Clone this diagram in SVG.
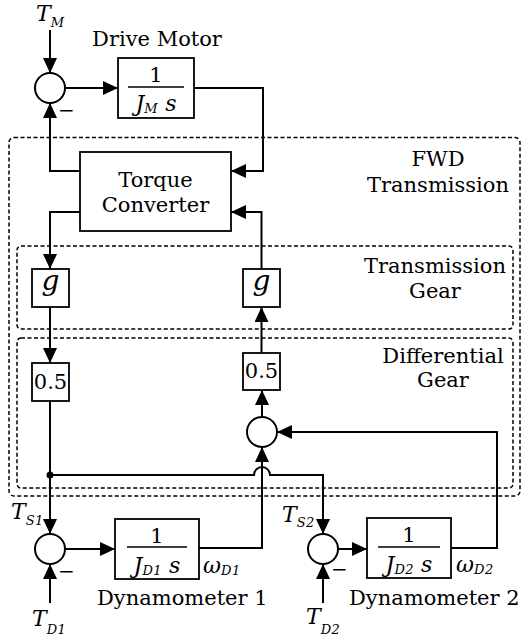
<svg xmlns="http://www.w3.org/2000/svg" width="525" height="643" viewBox="0 0 525 643">
<defs>
<marker id="ah" markerUnits="userSpaceOnUse" markerWidth="15" markerHeight="14" refX="15" refY="7" orient="auto">
<path d="M0,0 L15,7 L0,14 z" fill="#000"/>
</marker>
<style>
text{font-family:"DejaVu Serif","Liberation Serif",serif;fill:#000}
.lbl{font-size:21px}
.m{font-style:italic;font-size:22px}
.sub{font-size:13px;letter-spacing:0.5px}
.num{font-size:21px}
.mn{font-size:20px}
.blk{fill:#fff;stroke:#000;stroke-width:1.8}
.sum{fill:#fff;stroke:#000;stroke-width:2}
.dash{fill:none;stroke:#000;stroke-width:1.5;stroke-dasharray:4,2.5}
.w{fill:none;stroke:#000;stroke-width:2}
.a{marker-end:url(#ah)}
.fr{stroke:#000;stroke-width:1.5}
</style>
</defs>
<g id="groups">
<rect id="fwd" class="dash" x="9" y="137.5" width="511" height="358.5" rx="5"/>
<rect id="tgear" class="dash" x="17" y="246" width="496" height="83" rx="4"/>
<rect id="dgear" class="dash" x="17" y="338" width="496" height="150" rx="4"/>
<text class="lbl" x="438" y="166" text-anchor="middle">FWD</text>
<text class="lbl" x="438" y="192" text-anchor="middle">Transmission</text>
<text class="lbl" x="435" y="273" text-anchor="middle">Transmission</text>
<text class="lbl" x="435" y="298" text-anchor="middle">Gear</text>
<text class="lbl" x="443" y="363" text-anchor="middle">Differential</text>
<text class="lbl" x="443" y="387" text-anchor="middle">Gear</text>
</g>
<g id="connectors">
<path class="w a" d="M50,30 L50,73"/>
<path class="w a" d="M65,88 L118,88"/>
<path class="w a" d="M194,88 L263,88 L263,171 L231,171"/>
<path class="w a" d="M80,171 L50,171 L50,103"/>
<path class="w a" d="M80,212 L50,212 L50,269"/>
<path class="w a" d="M261.5,269 L261.5,212 L231,212"/>
<path class="w a" d="M50,307 L50,363"/>
<path class="w a" d="M261.5,353 L261.5,307"/>
<path class="w a" d="M262,417 L262,390"/>
<path class="w a" d="M451,548 L497,548 L497,432 L277,432"/>
<path class="w a" d="M199,548 L262,548 L262,447"/>
<path class="w a" d="M50,401 L50,534"/>
<path class="w a" d="M50,475 L254,475 A8,8 0 0 1 270,475 L323,475 L323,534"/>
<circle cx="50" cy="475" r="3.5" fill="#000"/>
<path class="w a" d="M50,603 L50,564"/>
<path class="w a" d="M65,549 L115,549"/>
<path class="w a" d="M323,603 L323,564"/>
<path class="w a" d="M338,549 L367,549"/>
</g>
<g id="sum_motor">
<circle class="sum" cx="50" cy="88" r="15"/>
<text class="mn" x="58" y="116.5">−</text>
</g>
<g id="tm_label"><text class="m" x="36" y="21">T<tspan class="sub" dy="6">M</tspan></text></g>
<g id="motor">
<text class="lbl" x="157" y="46" text-anchor="middle">Drive Motor</text>
<rect class="blk" x="118" y="58" width="76" height="60"/>
<text class="num" x="156" y="82" text-anchor="middle">1</text>
<line class="fr" x1="128" y1="87" x2="184" y2="87"/>
<text class="m" x="156" y="111" text-anchor="middle">J<tspan class="sub" dy="2">M</tspan><tspan dy="-2"> s</tspan></text>
</g>
<g id="torque_converter">
<rect class="blk" x="80" y="152" width="151" height="79"/>
<text class="lbl" x="155.5" y="187" text-anchor="middle">Torque</text>
<text class="lbl" x="155.5" y="212" text-anchor="middle">Converter</text>
</g>
<g id="g_left">
<rect class="blk" x="32" y="269" width="37" height="38"/>
<text class="m" x="50.5" y="290" text-anchor="middle" style="font-size:28px">g</text>
</g>
<g id="g_right">
<rect class="blk" x="243" y="269" width="37" height="38"/>
<text class="m" x="261.5" y="290" text-anchor="middle" style="font-size:28px">g</text>
</g>
<g id="half_left">
<rect class="blk" x="32" y="363" width="37" height="38"/>
<text class="num" x="50.5" y="388.5" text-anchor="middle">0.5</text>
</g>
<g id="half_right">
<rect class="blk" x="243" y="353" width="37" height="37"/>
<text class="num" x="261.5" y="378" text-anchor="middle">0.5</text>
</g>
<g id="sum_diff"><circle class="sum" cx="262" cy="432" r="15"/></g>
<g id="sum_d1">
<circle class="sum" cx="50" cy="549" r="15"/>
<text class="mn" x="58" y="578">−</text>
<text class="m" x="11" y="519">T<tspan class="sub" dy="6">S1</tspan></text>
<text class="m" x="32" y="626">T<tspan class="sub" dy="8">D1</tspan></text>
</g>
<g id="dyno1">
<rect class="blk" x="115" y="519" width="84" height="60"/>
<text class="num" x="157" y="543" text-anchor="middle">1</text>
<line class="fr" x1="127" y1="547" x2="187" y2="547"/>
<text class="m" x="157" y="573" text-anchor="middle">J<tspan class="sub" dy="2">D1</tspan><tspan dy="-2"> s</tspan></text>
<text class="m" x="203" y="573">ω<tspan class="sub" dy="2">D1</tspan></text>
<text class="lbl" x="97" y="605">Dynamometer 1</text>
</g>
<g id="sum_d2">
<circle class="sum" cx="323" cy="549" r="15"/>
<text class="mn" x="331" y="576">−</text>
<text class="m" x="282" y="522">T<tspan class="sub" dy="5">S2</tspan></text>
<text class="m" x="306" y="624">T<tspan class="sub" dy="10">D2</tspan></text>
</g>
<g id="dyno2">
<rect class="blk" x="367" y="518" width="84" height="60"/>
<text class="num" x="409" y="542" text-anchor="middle">1</text>
<line class="fr" x1="378" y1="547" x2="440" y2="547"/>
<text class="m" x="409" y="572" text-anchor="middle">J<tspan class="sub" dy="2">D2</tspan><tspan dy="-2"> s</tspan></text>
<text class="m" x="456" y="572">ω<tspan class="sub" dy="2">D2</tspan></text>
<text class="lbl" x="349" y="605">Dynamometer 2</text>
</g>
</svg>
